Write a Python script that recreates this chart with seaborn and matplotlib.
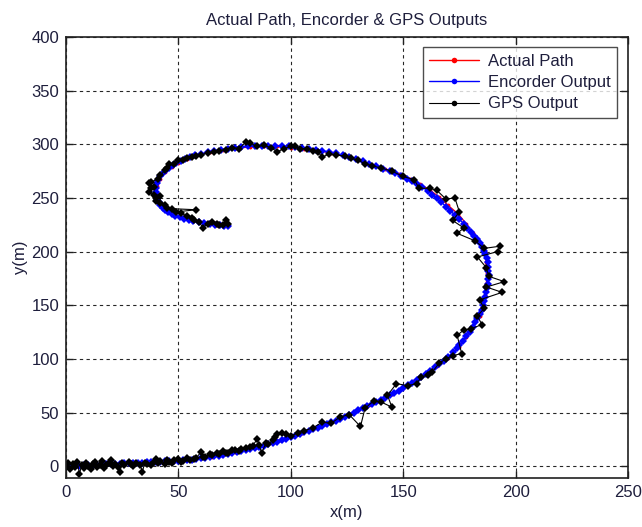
import matplotlib
matplotlib.use("Agg")
import matplotlib.pyplot as plt
import seaborn as sns
import pandas as pd

# ---- data ----
path_x = [0, 5, 10, 15, 20, 25, 30, 35, 40, 45, 50, 55, 60, 65, 70, 75, 80, 85, 90, 95,
          100, 105, 110, 115, 120, 125, 130, 135, 140, 145, 150, 155, 160, 165, 170, 175,
          178, 181, 184, 185.5, 186.5, 187, 187.3, 187, 186.5, 184, 181, 178, 174.5, 170,
          166, 162, 157.5, 153, 148, 142, 136, 130, 124, 118, 112, 106, 100, 94, 88, 82,
          76, 70, 64, 58, 54, 50, 47, 44, 42, 40.5, 40, 41, 43, 45, 48, 52, 56, 61, 67, 72]
path_y = [0, 0.5, 1, 1.5, 2, 2.5, 3, 3.5, 4, 4.5, 5, 6, 7.5, 9, 11, 13, 15.5, 18, 21, 24.5,
          28, 31, 35, 39, 43, 48, 52, 57, 62, 67, 73, 79, 86, 93, 101, 111,
          120, 130, 140, 150, 160, 170, 180, 190, 200, 208, 217, 226, 235, 243,
          251, 257, 263, 268, 272, 277, 281, 285, 289, 292, 294, 296, 297, 298, 298, 297.5,
          296.5, 295, 292.5, 290, 286, 283, 279, 274, 268, 261, 255, 248, 243, 239, 235, 232, 230, 227.5, 225, 224]

enc_x = [0, 2, 4, 6, 8, 10, 12, 14, 16, 18, 20, 22, 24, 26, 28, 30, 32, 34, 36, 38, 40, 42, 44,
         46, 48, 50, 52, 54, 56, 58, 60, 62, 64, 66, 68, 70, 72, 74, 76, 78,
         80, 82, 84, 86, 88, 90, 92, 94, 96, 98, 100, 102, 104, 106, 108, 110, 112, 114, 116, 118,
         120, 122, 124, 126, 128, 130, 132, 134, 136, 138, 140, 142, 144, 146,
         148, 150, 152, 154, 156, 158, 160, 162, 164, 166, 168, 170, 172, 174, 175, 176.5, 178,
         179.5, 181, 182, 183, 184, 185, 185.5, 186, 186.5, 187, 187.3, 187.5, 187.8, 188,
         187.9, 187.8, 187.5, 187.2, 186.6, 186, 185, 184, 183, 181.5, 180, 178.5, 177, 175,
         173, 171, 169, 167, 165, 163, 161, 158.5, 156, 154, 151.5, 149, 146.5, 144,
         141, 138, 135, 132, 129, 126, 123, 120, 117, 114, 111, 108, 105, 102, 99, 96, 93, 90, 87, 84,
         81, 78, 75, 72, 69, 66, 63, 60, 57.5, 55, 53, 51, 49, 47.5, 46, 44.5,
         43.2, 42, 41, 40.5, 40.2, 40, 40.2, 40.5, 41.2, 42, 43, 44, 45.5, 47, 48.7, 50.5, 52.5, 54.5,
         56.7, 59, 61.5, 64, 66.2, 68.5, 70.3, 72]
enc_y = [0, 0.2, 0.4, 0.6, 0.8, 1, 1.2, 1.4, 1.6, 1.8, 2, 2.2, 2.4, 2.6, 2.8, 3, 3.2, 3.4, 3.6, 3.8, 4, 4.2, 4.4,
         4.6, 4.8, 5, 5.4, 5.8, 6.2, 6.7, 7.2, 7.8, 8.4, 9.1, 9.8, 10.6, 11.4, 12.2, 13, 13.9,
         14.8, 15.8, 16.8, 17.9, 19, 20.3, 21.6, 22.9, 24.2, 25.6, 27, 28.5, 30, 31.5, 33, 34.5, 36, 37.6, 39.2, 40.8,
         42.5, 44.2, 46, 48, 50, 52, 54, 56, 58, 60, 62, 64, 66, 68.2,
         70.5, 73, 75.5, 78, 80.5, 83.2, 86, 89, 92, 95.2, 98.5, 102, 106, 110, 113, 117, 121,
         125.5, 130, 134, 138, 142, 146, 150, 154, 158, 162, 166, 170, 174, 178,
         182, 186, 190, 194, 197.5, 201, 204.5, 208, 211.5, 215, 218.5, 222, 226, 230,
         234, 238, 242, 246, 249.5, 253, 256.5, 260, 263, 265.5, 268, 270.5, 273, 275,
         277.3, 279.5, 281.8, 284, 286, 288, 289.8, 291.5, 292.8, 294, 295, 296, 296.8, 297.5, 298, 298.5, 298.7, 298.8, 298.7, 298.5,
         298, 297.5, 296.8, 296, 295, 294, 292.5, 291, 289.6, 288, 286.3, 284.5, 282.5, 280.5, 278.3, 276,
         273, 270, 266.8, 263.5, 259.7, 256, 252.5, 249, 246, 243, 240.8, 238.5, 236.7, 235, 233.5, 232, 230.7, 229.5,
         228.5, 227.5, 226.5, 225.5, 225, 224.5, 224, 223.5]

gps_x = [0, 1, 2, 3, 4, 5, 6, 7, 8, 9, 10, 11, 12, 13, 14, 15, 16, 17, 18, 19, 20, 21, 22, 23,
         24, 25, 26, 28, 29, 30, 31, 33, 34, 35, 36, 38, 39, 40, 41, 42, 44, 45, 46, 47, 48, 50,
         51, 52, 54, 55, 57, 58, 60, 61, 62, 64, 65, 67, 68, 70, 71, 72, 74, 75, 77, 78, 80, 82,
         83, 85, 86, 87, 89, 90, 92, 93, 94, 96, 98, 100,
         103, 106, 110, 114, 118, 122, 126, 131, 133, 137, 140, 145, 143,
         147, 152, 156, 158, 161, 163, 166, 169, 172, 176, 174, 177, 180, 185, 183, 186, 184,
         194, 187, 195, 188, 187, 183, 192, 193, 186, 182, 174, 177, 172, 175, 173, 169, 165,
         162, 157, 155, 150, 145, 140, 136,
         133, 130, 127, 124, 120, 117, 114, 112, 110, 107, 104, 102, 100, 97, 94, 91, 88, 85, 82,
         80, 77, 74, 71, 68, 66, 63, 60, 58, 56, 54, 52, 50, 48, 46, 45, 44, 42, 41, 38, 37, 39,
         38, 37, 39, 42, 40, 40, 42, 44, 45, 47, 58, 49, 51, 54, 56, 57, 59, 61, 63, 65, 67, 68,
         70, 71, 72]
gps_y = [-1, 3, -3, 2, -1, 4, -7, 1, -2, 3, 0, -3, 2, 4, -1, 1, 5, -2, 1, 3, 6, 0, 2, -1,
         -5, 3, 1, 4, 2, 0, 3, 1, -5, 3, 2, 1, 4, 7, 3, 5, 2, 6, 4, 3, 6, 7,
         4, 5, 8, 6, 7, 8, 13, 9, 9, 11, 10, 12, 11, 14, 12, 12, 15, 15, 14, 16, 17, 18,
         19, 25, 20, 12, 22, 21, 24, 27, 30, 31, 30, 28,
         31, 33, 36, 41, 40, 46, 48, 37, 54, 61, 60, 55, 66,
         77, 75, 77, 83, 85, 88, 96, 100, 103, 105, 122, 127, 128, 132, 140, 147, 155,
         162, 167, 172, 177, 185, 195, 200, 205, 203, 210, 217, 222, 229, 237, 250, 249, 257,
         259, 259, 267, 270, 275, 278, 280,
         282, 285, 287, 289, 290, 291, 288, 293, 294, 296, 296, 298, 298, 296, 293, 297, 299, 298, 301,
         302, 296, 297, 295, 294, 293, 292, 290, 289, 288, 287, 285, 285, 282, 282, 278, 276, 271, 268, 265, 264, 260,
         259, 256, 253, 252, 250, 247, 245, 243, 241, 240, 239, 237, 236, 233, 231, 229, 228, 222, 226, 228, 226, 225,
         225, 229, 226]

labels = ["Actual Path", "Encorder Output", "GPS Output"]

# ---- figure ----
sns.set_style("white")
plt.rcParams["font.family"] = ["Liberation Sans", "DejaVu Sans"]
TXT = "#1e1e3c"
FS = 12

fig = plt.figure(figsize=(6.42, 5.27), dpi=100)
ax = fig.add_axes([66/642, 1-478/527, (628-66)/642, (478-37)/527])

df_p = pd.DataFrame({"x": path_x, "y": path_y})
df_e = pd.DataFrame({"x": enc_x, "y": enc_y})
df_g = pd.DataFrame({"x": gps_x, "y": gps_y})

sns.lineplot(data=df_p, x="x", y="y", sort=False, estimator=None, ax=ax, color="red",
             lw=1.0, marker="o", markersize=2.8, markeredgewidth=0, label=labels[0])
sns.lineplot(data=df_e, x="x", y="y", sort=False, estimator=None, ax=ax, color="blue",
             lw=1.0, marker="D", markersize=3.6, markeredgewidth=0, label=labels[1])
sns.lineplot(data=df_g, x="x", y="y", sort=False, estimator=None, ax=ax, color="black",
             lw=0.8, marker="D", markersize=4.2, markeredgewidth=0, label=labels[2])

ax.set_xlim(0, 250)
ax.set_ylim(-11, 400)
ax.set_xticks([0, 50, 100, 150, 200, 250])
ax.set_yticks([0, 50, 100, 150, 200, 250, 300, 350, 400])
ax.grid(True, color="black", linestyle=(0, (3, 3)), linewidth=0.8, alpha=0.85)
for s in ax.spines.values():
    s.set_visible(True)
    s.set_color("#202020")
    s.set_linewidth(1.2)
ax.tick_params(direction="in", length=5, width=1, colors="#202020", pad=5,
               labelcolor=TXT, labelsize=FS, top=True, right=True, bottom=True, left=True)
ax.set_xlabel("x(m)", fontsize=FS, color=TXT, labelpad=4)
ax.set_ylabel("y(m)", fontsize=FS, color=TXT, labelpad=2)
ax.set_title("Actual Path, Encorder & GPS Outputs", fontsize=FS, color=TXT, pad=9)

leg = ax.legend(loc="upper right", bbox_to_anchor=(0.9804, 0.977),
                fontsize=FS, frameon=True, fancybox=False, handlelength=3.0,
                borderpad=0.4, labelspacing=0.38, handletextpad=0.5, borderaxespad=0)
for h in leg.legend_handles:
    h.set_marker("o")
    h.set_markersize(4)
leg.get_frame().set_edgecolor("#202020")
leg.get_frame().set_linewidth(1.0)
for t in leg.get_texts():
    t.set_color(TXT)

fig.savefig("out.png", dpi=100, facecolor="white")
